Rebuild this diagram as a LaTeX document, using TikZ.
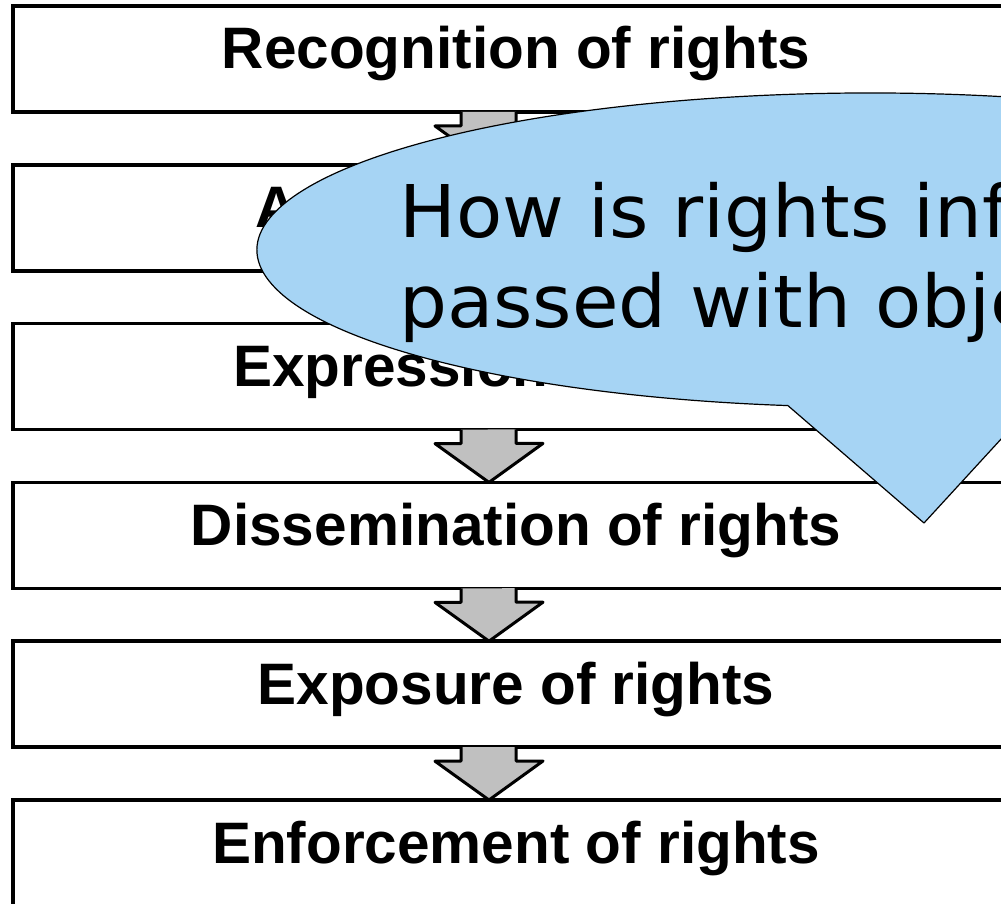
\documentclass[tikz,border=0pt]{standalone}
\usepackage{fontspec}
\usepackage{xcolor}
\setmainfont{Liberation Sans}
\newfontfamily\bubfont[FakeStretch=1.04]{DejaVu Sans}
\definecolor{bubblue}{RGB}{166,212,244}
\definecolor{arrowgray}{RGB}{192,192,192}

\begin{document}
\begin{tikzpicture}[x=1pt,y=1pt,
    stepbox/.style={draw,line width=3.5pt,outer sep=0pt,inner sep=0pt,
        minimum width=1006pt,minimum height=106pt,text height=42pt,text depth=22pt,
        font=\bfseries\fontsize{58.5pt}{70pt}\selectfont},
    flow/.style={fill=arrowgray,draw,line width=3pt,line join=round}]
\useasboundingbox (0,0) rectangle (1001,903);
\path
    (516,844) node [stepbox] (recog) {Recognition of rights}
    +(0,-158.8) node [stepbox] (assert) {Assertion of rights}
    +(0,-317.6) node [stepbox] (express) {Expression of rights}
    +(0,-476.4) node [stepbox] (dissem) {Dissemination of rights}
    +(0,-635.2) node [stepbox] (expose) {Exposure of rights}
    +(0,-794) node [stepbox] (enforce) {Enforcement of rights};
\foreach \a/\b in {recog/assert,assert/express,express/dissem,dissem/expose,expose/enforce}
    \filldraw[flow] ([xshift=-55pt]\a.south) -- ++(0,-14) -- ++(-26,0)
        -- ([xshift=-27pt]\b.north) -- ++(54,39) -- ++(-27,0) -- ++(0,14);
% callout over the flow
\coordinate (bub) at (870,653);
\coordinate (tip) at (924,380);
\filldraw[fill=bubblue,draw=black,line width=1.2pt,line join=round]
    (tip) -- ([shift={(285.7:613pt and 157pt)}]bub)
    arc[start angle=285.7,end angle=622.3,x radius=613pt,y radius=157pt] -- cycle;
\node [anchor=base west,align=left,inner sep=0pt,
    font=\bubfont\fontsize{72.7pt}{90pt}\selectfont] (ask) at (399,575)
    {How is rights inf\\passed with obje};
\end{tikzpicture}
\end{document}
